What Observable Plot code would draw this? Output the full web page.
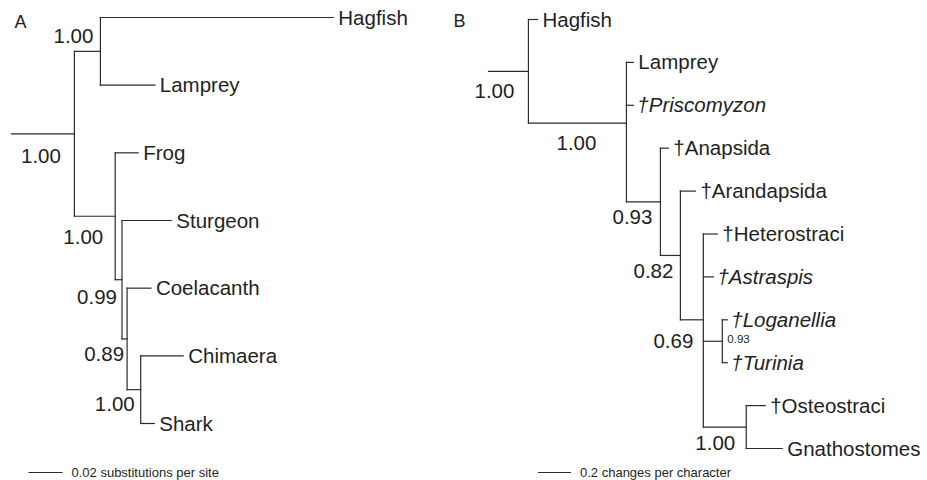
<!DOCTYPE html>
<html>
<head>
<meta charset="utf-8">
<script src="https://cdn.jsdelivr.net/npm/d3@7"></script>
<script src="https://cdn.jsdelivr.net/npm/@observablehq/plot@0.6"></script>
<style>
  body { margin: 0; background: #fff; }
  #wrap { display: flex; width: 927px; height: 480px; }
  #wrap svg { overflow: visible; display: block; }
</style>
</head>
<body>
<div id="wrap"></div>
<script>
// ---------- Panel A: molecular tree (substitutions per site) ----------
const nodesA   = ["rootA", "a1", "Hagfish", "Lamprey", "a2", "Frog", "a3", "Sturgeon", "a4", "Coelacanth", "a5", "Chimaera", "Shark"];
const parentsA = [null, "rootA", "a1", "a1", "rootA", "a2", "a2", "a3", "a3", "a4", "a4", "a5", "a5"];
const lengthsA = [0.037, 0.0153, 0.137, 0.032, 0.024, 0.0135, 0.004, 0.029, 0.003, 0.014, 0.008, 0.025, 0.008];
const supportNodesA  = ["rootA", "a1", "a2", "a3", "a4", "a5"];
const supportValuesA = ["1.00", "1.00", "1.00", "0.99", "0.89", "1.00"];
const italicA = [];
const scaleValueA = 0.02;
const scaleLabelA = "0.02 substitutions per site";

// ---------- Panel B: morphological tree (changes per character) ----------
const nodesB   = ["rootB", "Hagfish", "b1", "Lamprey", "†Priscomyzon", "b2", "†Anapsida", "b3", "†Arandapsida", "b4",
                  "†Heterostraci", "†Astraspis", "b5", "†Loganellia", "†Turinia", "b6", "†Osteostraci", "Gnathostomes"];
const parentsB = [null, "rootB", "rootB", "b1", "b1", "b1", "b2", "b2", "b3", "b3",
                  "b4", "b4", "b4", "b5", "b5", "b4", "b6", "b6"];
const lengthsB = [0.242, 0.055, 0.594, 0.042, 0.042, 0.206, 0.048, 0.121, 0.091, 0.139,
                  0.085, 0.061, 0.115, 0.03, 0.03, 0.26, 0.115, 0.218];
const supportNodesB  = ["rootB", "b1", "b2", "b3", "b4", "b5", "b6"];
const supportValuesB = ["1.00", "1.00", "0.93", "0.82", "0.69", "0.93", "1.00"];
const italicB = ["†Priscomyzon", "†Astraspis", "†Loganellia", "†Turinia"];
const scaleValueB = 0.2;
const scaleLabelB = "0.2 changes per character";

// ---------- styles (label placement) ----------
const FONT = "'Liberation Sans', Arial, Helvetica, sans-serif";
const INK = "#231f20";
const LINE = "#2b2b2b";
const supStyleA = {
  rootA: {mid: true, dx: -2, dy: 23},
  a1: {dx: -7, dy: -14.5},
  a2: {dx: -12, dy: 21},
  a3: {dx: -5, dy: 18},
  a4: {dx: -3, dy: 16},
  a5: {dx: -6, dy: 15}
};
const supStyleB = {
  rootB: {dx: -14, dy: 20},
  b1: {mid: true, dx: -1, dy: 20},
  b2: {dx: -8, dy: 16},
  b3: {dx: -7, dy: 16},
  b4: {dx: -10, dy: 22},
  b5: {anchor: "start", dx: 5, dy: -2, size: 11.5},
  b6: {dx: -11, dy: 16}
};

function layout(nodes, parents, lengths) {
  const map = new Map();
  nodes.forEach((id, i) => map.set(id, {id, parent: parents[i], len: lengths[i], children: []}));
  for (const n of map.values()) if (n.parent) map.get(n.parent).children.push(n);
  const root = map.get(nodes[0]);
  let row = 0;
  (function walk(n, x0) {
    n.x0 = x0; n.x = x0 + n.len;
    if (!n.children.length) { n.y = row++; }
    else {
      n.children.forEach(c => walk(c, n.x));
      n.y = d3.mean(n.children, c => c.y);
      n.ymin = d3.min(n.children, c => c.y);
      n.ymax = d3.max(n.children, c => c.y);
    }
  })(root, 0);
  const all = [...map.values()];
  return {map, all, leaves: all.filter(n => !n.children.length), internal: all.filter(n => n.children.length), nLeaves: row};
}

function panel({nodes, parents, lengths, supNodes, supVals, italic, supStyle, scaleValue, scaleLabel, scaleStart,
                width, xRange, xPerPx, yRange, letter, letterX, letterY}) {
  const T = layout(nodes, parents, lengths);
  const rowPx = (yRange[1] - yRange[0]) / (T.nLeaves - 1);
  const barRow = (T.nLeaves - 1) + (472 - yRange[1]) / rowPx;
  const xDomain = [0, (xRange[1] - xRange[0]) / xPerPx];
  const horiz = T.all.map(n => ({x1: n.x0, x2: n.x, y: n.y}));
  const vert = T.internal.map(n => ({x: n.x, y1: n.ymin, y2: n.ymax}));
  const sup = supNodes.map((id, i) => {
    const n = T.map.get(id), s = supStyle[id] || {};
    return {x: s.mid ? (n.x0 + n.x) / 2 : n.x, y: n.y, value: supVals[i],
            dx: s.dx ?? -7, dy: s.dy ?? 17, anchor: s.mid ? "middle" : (s.anchor || "end"), size: s.size || 20.5};
  });
  const roman = T.leaves.filter(n => !italic.includes(n.id));
  const ital = T.leaves.filter(n => italic.includes(n.id));
  return Plot.plot({
    width, height: 480,
    margin: 0,
    x: {domain: xDomain, range: xRange, axis: null},
    y: {domain: [0, T.nLeaves - 1], range: yRange, axis: null},
    style: {fontFamily: FONT, overflow: "visible", background: "transparent"},
    marks: [
      Plot.link(horiz, {x1: "x1", x2: "x2", y1: "y", y2: "y", stroke: LINE, strokeWidth: 1.2, strokeLinecap: "square"}),
      Plot.link(vert, {x1: "x", x2: "x", y1: "y1", y2: "y2", stroke: LINE, strokeWidth: 1.2, strokeLinecap: "square"}),
      Plot.text(roman, {x: "x", y: "y", text: "id", textAnchor: "start", dx: 5, dy: 0.5, fontSize: 20.5, fill: INK}),
      Plot.text(ital, {x: "x", y: "y", text: "id", textAnchor: "start", dx: 4, dy: 0.5, fontSize: 20.5, fontStyle: "italic", fill: INK}),
      ...sup.map(s => Plot.text([s], {x: "x", y: "y", text: "value", textAnchor: s.anchor, dx: s.dx, dy: s.dy, fontSize: s.size, fill: INK})),
      Plot.link([{x1: scaleStart, x2: scaleStart + scaleValue, y: barRow}], {x1: "x1", x2: "x2", y1: "y", y2: "y", stroke: LINE, strokeWidth: 1.1}),
      Plot.text([{x: scaleStart + scaleValue, y: barRow, t: scaleLabel}], {x: "x", y: "y", text: "t", textAnchor: "start", dx: 9, dy: 0, fontSize: 13, fill: INK}),
      Plot.text([letter], {frameAnchor: "top-left", text: d => d, dx: letterX, dy: letterY, lineAnchor: "top", textAnchor: "start", fontSize: 18, fill: INK})
    ]
  });
}

const wrap = document.getElementById("wrap");
wrap.append(panel({
  nodes: nodesA, parents: parentsA, lengths: lengthsA, supNodes: supportNodesA, supVals: supportValuesA,
  italic: italicA, supStyle: supStyleA, scaleValue: scaleValueA, scaleLabel: scaleLabelA, scaleStart: 0.01,
  width: 440, xRange: [11, 440], xPerPx: 1700, yRange: [17, 423], letter: "A", letterX: 14, letterY: 15
}));
wrap.append(panel({
  nodes: nodesB, parents: parentsB, lengths: lengthsB, supNodes: supportNodesB, supVals: supportValuesB,
  italic: italicB, supStyle: supStyleB, scaleValue: scaleValueB, scaleLabel: scaleLabelB, scaleStart: 0.3,
  width: 487, xRange: [48, 487], xPerPx: 165, yRange: [19, 448], letter: "B", letterX: 13, letterY: 14
}));
</script>
</body>
</html>
